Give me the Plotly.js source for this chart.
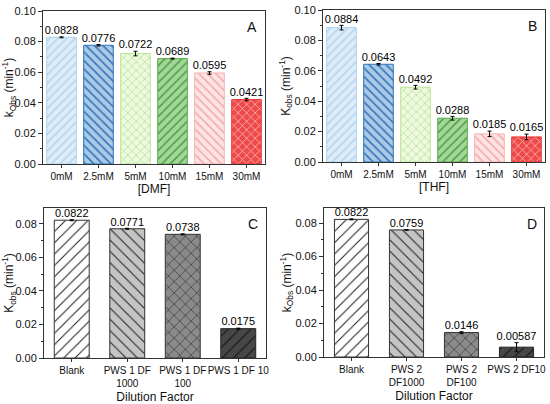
<!DOCTYPE html>
<html>
<head>
<meta charset="utf-8">
<script src="https://cdn.plot.ly/plotly-3.0.1.min.js"></script>
<style>html,body{margin:0;padding:0;background:#fff}#plot{width:550px;height:404px}</style>
</head>
<body>
<div id="plot"></div>
<script>
// ---- data ----
const concLabels = ['0mM', '2.5mM', '5mM', '10mM', '15mM', '30mM'];
const dmfValues = [0.0828, 0.0776, 0.0722, 0.0689, 0.0595, 0.0421];
const dmfErrors = [0.0003, 0.0005, 0.0015, 0.0003, 0.0008, 0.0008];
const thfValues = [0.0884, 0.0643, 0.0492, 0.0288, 0.0185, 0.0165];
const thfErrors = [0.0015, 0.0005, 0.0012, 0.0012, 0.0018, 0.0018];

const pws1Labels = ['Blank', 'PWS 1 DF<br>1000', 'PWS 1 DF<br>100', 'PWS 1 DF 10'];
const pws1Values = [0.0822, 0.0771, 0.0738, 0.0175];
const pws1Errors = [0.0003, 0.0003, 0.0003, 0.0003];
const pws2Labels = ['Blank', 'PWS 2<br>DF1000', 'PWS 2<br>DF100', 'PWS 2 DF10'];
const pws2Values = [0.0822, 0.0759, 0.0146, 0.00587];
const pws2Errors = [0.0003, 0.0002, 0.0005, 0.0027];

// ---- styles ----
const FONT = 'Liberation Sans, Arial, sans-serif';
const concStyle = {
  shape: ['/', '\\', 'x', '/', '\\', 'x'],
  bg: ['#deedf8', '#a9c9e6', '#eef9df', '#a3d697', '#fde4e4', '#ef4a4a'],
  fg: ['#b2d5ee', '#2e6fb5', '#b5e392', '#4a9e45', '#f5a5a5', '#fbb4b4'],
  line: ['#abd3ef', '#2f74b9', '#b8e49a', '#58a84f', '#f6b3b3', '#e83737']
};
const greyStyle = {
  shape: ['/', '\\', 'x', '/'],
  bg: ['#ffffff', '#c4c4c4', '#8a8a8a', '#474747'],
  fg: ['#222222', '#222222', '#222222', '#111111'],
  line: ['#333333', '#333333', '#333333', '#222222']
};

function barTrace(x, y, err, style, xa, ya, width, size, solidity) {
  return {
    type: 'bar', x: x, y: y, xaxis: xa, yaxis: ya, width: width,
    marker: {
      color: '#ffffff',
      line: {color: style.line, width: 1},
      pattern: {shape: style.shape, bgcolor: style.bg, fgcolor: style.fg, fgopacity: 1,
                size: size, solidity: solidity, fillmode: 'replace'}
    },
    error_y: {type: 'data', array: err, visible: true, color: '#000', thickness: 1, width: 2},
    showlegend: false, hoverinfo: 'skip'
  };
}
function labelTrace(x, y, err, xa, ya) {
  return {
    type: 'scatter', mode: 'text', x: x, y: y.map((v, i) => v + err[i]),
    text: y.map(v => String(v)), textposition: 'top center',
    textfont: {family: FONT, size: 11, color: '#000'},
    xaxis: xa, yaxis: ya, showlegend: false, hoverinfo: 'skip'
  };
}

const data = [
  barTrace(concLabels, dmfValues, dmfErrors, concStyle, 'x', 'y', 0.8, 6, 0.25),
  labelTrace(concLabels, dmfValues, dmfErrors, 'x', 'y'),
  barTrace(concLabels, thfValues, thfErrors, concStyle, 'x2', 'y2', 0.8, 6, 0.25),
  labelTrace(concLabels, thfValues, thfErrors, 'x2', 'y2'),
  barTrace(pws1Labels, pws1Values, pws1Errors, greyStyle, 'x3', 'y3', 0.63, 8, 0.13),
  labelTrace(pws1Labels, pws1Values, pws1Errors, 'x3', 'y3'),
  barTrace(pws2Labels, pws2Values, pws2Errors, greyStyle, 'x4', 'y4', 0.62, 8, 0.13),
  labelTrace(pws2Labels, pws2Values, pws2Errors, 'x4', 'y4')
];

function xAxis(domain, anchor, title, standoff) {
  return {
    domain: domain, anchor: anchor, type: 'category', tickangle: 0,
    showline: true, linecolor: '#333', linewidth: 1, mirror: true,
    ticks: 'outside', ticklen: 3, tickcolor: '#333',
    tickfont: {family: FONT, size: 10, color: '#111'},
    title: {text: title, font: {family: FONT, size: 12, color: '#111'}, standoff: standoff},
    showgrid: false, zeroline: false, fixedrange: true
  };
}
function yAxis(domain, anchor, range, title) {
  return {
    domain: domain, anchor: anchor, range: range, dtick: 0.02, tickformat: '.2f',
    showline: true, linecolor: '#333', linewidth: 1, mirror: true,
    ticks: 'outside', ticklen: 4, tickcolor: '#333',
    minor: {ticks: 'outside', ticklen: 2, dtick: 0.01, tickcolor: '#333'},
    tickfont: {family: FONT, size: 11, color: '#111'},
    title: {text: title, font: {family: FONT, size: 12, color: '#111'}, standoff: 0},
    showgrid: false, zeroline: false, fixedrange: true
  };
}

const layout = {
  width: 550, height: 404,
  margin: {l: 0, r: 0, t: 0, b: 0},
  paper_bgcolor: '#fff', plot_bgcolor: '#fff',
  font: {family: FONT, color: '#111'},
  xaxis: xAxis([43/550, 265/550], 'y', '[DMF]', 2),
  yaxis: yAxis([1 - 164/404, 1 - 11/404], 'x', [0, 0.1], 'k<sub>Obs</sub> (min<sup>-1</sup>)'),
  xaxis2: xAxis([323/550, 545/550], 'y2', '[THF]', 2),
  yaxis2: yAxis([1 - 162/404, 1 - 10/404], 'x2', [0, 0.1], 'K<sub>obs</sub> (min<sup>-1</sup>)'),
  xaxis3: xAxis([44/550, 266/550], 'y3', 'Dilution Factor', 4),
  yaxis3: yAxis([1 - 358/404, 1 - 208/404], 'x3', [0, 0.0895], 'K<sub>obs</sub> (min<sup>-1</sup>)'),
  xaxis4: xAxis([324/550, 544/550], 'y4', 'Dilution Factor', 4),
  yaxis4: yAxis([1 - 357/404, 1 - 208/404], 'x4', [0, 0.0890], 'k<sub>Obs</sub> (min<sup>-1</sup>)'),
  annotations: [
    ['A', 'x domain', 'y domain'], ['B', 'x2 domain', 'y2 domain'],
    ['C', 'x3 domain', 'y3 domain'], ['D', 'x4 domain', 'y4 domain']
  ].map(a => ({
    text: a[0], xref: a[1], yref: a[2], x: 0.975, y: 0.96,
    xanchor: 'right', yanchor: 'top', showarrow: false,
    font: {family: FONT, size: 14, color: '#111'}
  }))
};

Plotly.newPlot('plot', data, layout, {displayModeBar: false, staticPlot: true});
</script>
</body>
</html>
